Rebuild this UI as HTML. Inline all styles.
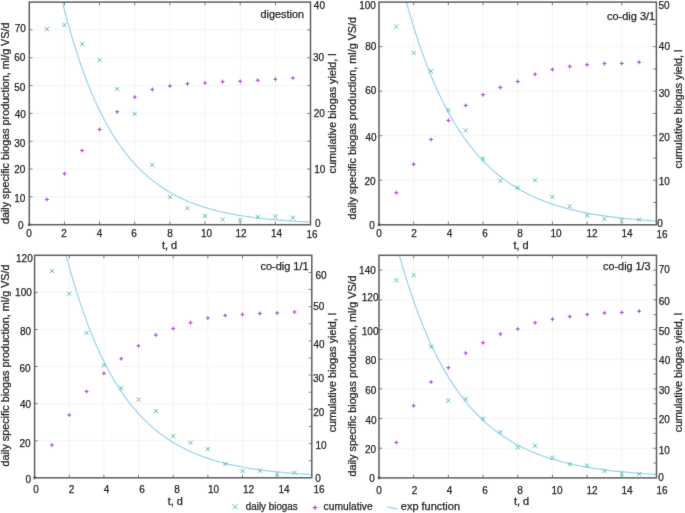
<!DOCTYPE html><html><head><meta charset="utf-8"><style>html,body{margin:0;padding:0;background:#fff;}svg{display:block;}text{font-family:"Liberation Sans", sans-serif;fill:#262626;stroke:#262626;stroke-width:0.25px;}</style></head><body><div id="w">
<svg width="685" height="513" viewBox="0 0 685 513">
<filter id="bl" x="0" y="0" width="685" height="513" filterUnits="userSpaceOnUse" color-interpolation-filters="sRGB"><feConvolveMatrix order="3" kernelMatrix="0.0064 0.0672 0.0064 0.0672 0.7056 0.0672 0.0064 0.0672 0.0064" edgeMode="duplicate" preserveAlpha="true"/></filter><g filter="url(#bl)"><rect width="685" height="513" fill="#fff"/>
<line x1="64.45" y1="2.1" x2="64.45" y2="224.7" stroke="#f4f4f4" stroke-width="1" /><line x1="99.6" y1="2.1" x2="99.6" y2="224.7" stroke="#f4f4f4" stroke-width="1" /><line x1="134.75" y1="2.1" x2="134.75" y2="224.7" stroke="#f4f4f4" stroke-width="1" /><line x1="169.9" y1="2.1" x2="169.9" y2="224.7" stroke="#f4f4f4" stroke-width="1" /><line x1="205.05" y1="2.1" x2="205.05" y2="224.7" stroke="#f4f4f4" stroke-width="1" /><line x1="240.2" y1="2.1" x2="240.2" y2="224.7" stroke="#f4f4f4" stroke-width="1" /><line x1="275.35" y1="2.1" x2="275.35" y2="224.7" stroke="#f4f4f4" stroke-width="1" /><line x1="29.3" y1="196.88" x2="310.5" y2="196.88" stroke="#f4f4f4" stroke-width="1" /><line x1="29.3" y1="169.05" x2="310.5" y2="169.05" stroke="#f4f4f4" stroke-width="1" /><line x1="29.3" y1="141.22" x2="310.5" y2="141.22" stroke="#f4f4f4" stroke-width="1" /><line x1="29.3" y1="113.4" x2="310.5" y2="113.4" stroke="#f4f4f4" stroke-width="1" /><line x1="29.3" y1="85.57" x2="310.5" y2="85.57" stroke="#f4f4f4" stroke-width="1" /><line x1="29.3" y1="57.75" x2="310.5" y2="57.75" stroke="#f4f4f4" stroke-width="1" /><line x1="29.3" y1="29.92" x2="310.5" y2="29.92" stroke="#f4f4f4" stroke-width="1" />
<clipPath id="c1"><rect x="29.3" y="2.1" width="281.2" height="222.6"/></clipPath>
<polyline clip-path="url(#c1)" points="59.6,-9.45 61.71,-0.75 63.82,7.62 65.93,15.67 68.03,23.43 70.14,30.91 72.25,38.1 74.36,45.03 76.47,51.7 78.58,58.12 80.68,64.3 82.79,70.26 84.9,75.99 87.01,81.51 89.12,86.83 91.23,91.95 93.33,96.88 95.44,101.62 97.55,106.19 99.66,110.59 101.77,114.83 103.88,118.9 105.98,122.83 108.09,126.61 110.2,130.26 112.31,133.76 114.42,137.14 116.53,140.39 118.64,143.52 120.74,146.53 122.85,149.43 124.96,152.23 127.07,154.92 129.18,157.51 131.29,160 133.39,162.41 135.5,164.72 137.61,166.94 139.72,169.09 141.83,171.15 143.94,173.14 146.04,175.05 148.15,176.9 150.26,178.67 152.37,180.38 154.48,182.03 156.59,183.61 158.69,185.14 160.8,186.6 162.91,188.02 165.02,189.38 167.13,190.69 169.24,191.95 171.35,193.17 173.45,194.34 175.56,195.47 177.67,196.55 179.78,197.6 181.89,198.6 184,199.57 186.1,200.51 188.21,201.4 190.32,202.27 192.43,203.1 194.54,203.9 196.65,204.68 198.75,205.42 200.86,206.13 202.97,206.82 205.08,207.49 207.19,208.13 209.3,208.74 211.41,209.33 213.51,209.9 215.62,210.45 217.73,210.98 219.84,211.49 221.95,211.98 224.06,212.45 226.16,212.91 228.27,213.35 230.38,213.77 232.49,214.17 234.6,214.56 236.71,214.94 238.81,215.3 240.92,215.65 243.03,215.99 245.14,216.31 247.25,216.62 249.36,216.92 251.46,217.21 253.57,217.49 255.68,217.76 257.79,218.01 259.9,218.26 262.01,218.5 264.12,218.73 266.22,218.95 268.33,219.17 270.44,219.37 272.55,219.57 274.66,219.76 276.77,219.94 278.87,220.12 280.98,220.29 283.09,220.45 285.2,220.61 287.31,220.76 289.42,220.91 291.52,221.05 293.63,221.19 295.74,221.32 297.85,221.44 299.96,221.56 302.07,221.68 304.17,221.79 306.28,221.9 308.39,222 310.5,222.1" fill="none" stroke="#9ad2f3" stroke-width="1.2"/>
<path d="M44.77 27.1L48.98 31.3M44.77 31.3L48.98 27.1M62.35 22.85L66.55 27.05M62.35 27.05L66.55 22.85M79.92 42.1L84.12 46.3M79.92 46.3L84.12 42.1M97.5 58.1L101.7 62.3M97.5 62.3L101.7 58.1M115.08 87L119.27 91.2M115.08 91.2L119.27 87M132.65 111.7L136.85 115.9M132.65 115.9L136.85 111.7M150.22 162.8L154.42 167M150.22 167L154.42 162.8M167.8 194.8L172 199M167.8 199L172 194.8M185.38 206L189.57 210.2M185.38 210.2L189.57 206M202.95 213.9L207.15 218.1M202.95 218.1L207.15 213.9M220.53 217.4L224.72 221.6M220.53 221.6L224.72 217.4M238.1 217.9L242.3 222.1M238.1 222.1L242.3 217.9M255.67 214.9L259.88 219.1M255.67 219.1L259.88 214.9M273.25 214.4L277.45 218.6M273.25 218.6L277.45 214.4M290.82 215.6L295.03 219.8M290.82 219.8L295.03 215.6" stroke="#52bf9c" stroke-width="0.95" fill="none"/>
<path d="M46.88 196.8L47.62 198.65L49.48 199.4L47.62 200.15L46.88 202L46.12 200.15L44.27 199.4L46.12 198.65ZM64.45 171.1L65.2 172.95L67.05 173.7L65.2 174.45L64.45 176.3L63.7 174.45L61.85 173.7L63.7 172.95ZM82.02 147.9L82.77 149.75L84.62 150.5L82.77 151.25L82.02 153.1L81.27 151.25L79.42 150.5L81.27 149.75ZM99.6 126.8L100.35 128.65L102.2 129.4L100.35 130.15L99.6 132L98.85 130.15L97 129.4L98.85 128.65ZM117.17 109.2L117.92 111.05L119.77 111.8L117.92 112.55L117.17 114.4L116.42 112.55L114.58 111.8L116.42 111.05ZM134.75 94.6L135.5 96.45L137.35 97.2L135.5 97.95L134.75 99.8L134 97.95L132.15 97.2L134 96.45ZM152.32 87L153.07 88.85L154.92 89.6L153.07 90.35L152.32 92.2L151.57 90.35L149.72 89.6L151.57 88.85ZM169.9 83.3L170.65 85.15L172.5 85.9L170.65 86.65L169.9 88.5L169.15 86.65L167.3 85.9L169.15 85.15ZM187.47 81.2L188.22 83.05L190.07 83.8L188.22 84.55L187.47 86.4L186.72 84.55L184.88 83.8L186.72 83.05ZM205.05 80.3L205.8 82.15L207.65 82.9L205.8 83.65L205.05 85.5L204.3 83.65L202.45 82.9L204.3 82.15ZM222.62 79.1L223.38 80.95L225.22 81.7L223.38 82.45L222.62 84.3L221.88 82.45L220.03 81.7L221.88 80.95ZM240.2 78.7L240.95 80.55L242.8 81.3L240.95 82.05L240.2 83.9L239.45 82.05L237.6 81.3L239.45 80.55ZM257.77 77.7L258.52 79.55L260.38 80.3L258.52 81.05L257.77 82.9L257.02 81.05L255.17 80.3L257.02 79.55ZM275.35 76.6L276.1 78.45L277.95 79.2L276.1 79.95L275.35 81.8L274.6 79.95L272.75 79.2L274.6 78.45ZM292.93 75.4L293.68 77.25L295.53 78L293.68 78.75L292.93 80.6L292.18 78.75L290.32 78L292.18 77.25Z" fill="#b252e8"/>
<path d="M64.45 224.7V221.5M64.45 2.1V5.3M99.6 224.7V221.5M99.6 2.1V5.3M134.75 224.7V221.5M134.75 2.1V5.3M169.9 224.7V221.5M169.9 2.1V5.3M205.05 224.7V221.5M205.05 2.1V5.3M240.2 224.7V221.5M240.2 2.1V5.3M275.35 224.7V221.5M275.35 2.1V5.3M29.3 196.88H32.5M29.3 169.05H32.5M29.3 141.22H32.5M29.3 113.4H32.5M29.3 85.57H32.5M29.3 57.75H32.5M29.3 29.92H32.5M310.5 196.88H307.3M310.5 169.05H307.3M310.5 141.22H307.3M310.5 113.4H307.3M310.5 85.57H307.3M310.5 57.75H307.3M310.5 29.92H307.3" stroke="#808080" stroke-width="1" fill="none"/>
<path d="M27.5 222.9L31.1 226.5M27.5 226.5L31.1 222.9" stroke="#52bf9c" stroke-width="0.9" fill="none" opacity="0.6"/>
<path d="M27.5 224.7H31.1M29.3 222.9V226.5" stroke="#b252e8" stroke-width="1" fill="none" opacity="0.5"/>
<rect x="29.3" y="2.1" width="281.2" height="222.6" fill="none" stroke="#5f5f5f" stroke-width="1.5"/>
<circle cx="29.3" cy="224.7" r="1.0" fill="#223f6c"/>
<text x="20.23" y="32.02" text-anchor="middle" font-size="10">70</text><text x="19.73" y="61.48" text-anchor="middle" font-size="10">60</text><text x="19.73" y="90.56" text-anchor="middle" font-size="10">50</text><text x="20.38" y="117.52" text-anchor="middle" font-size="10">40</text><text x="19.73" y="146.77" text-anchor="middle" font-size="10">30</text><text x="19.73" y="173.44" text-anchor="middle" font-size="10">20</text><text x="19.77" y="202.48" text-anchor="middle" font-size="10">10</text><text x="20.73" y="228.81" text-anchor="middle" font-size="10">0</text><text x="319.42" y="8.94" text-anchor="middle" font-size="10">40</text><text x="318.56" y="61.1" text-anchor="middle" font-size="10">30</text><text x="319.23" y="117.06" text-anchor="middle" font-size="10">20</text><text x="319.75" y="173.27" text-anchor="middle" font-size="10">10</text><text x="317.74" y="227.19" text-anchor="middle" font-size="10">0</text><text x="28.94" y="237.1" text-anchor="middle" font-size="10">0</text><text x="64.02" y="237.1" text-anchor="middle" font-size="10">2</text><text x="99.42" y="237.1" text-anchor="middle" font-size="10">4</text><text x="134.08" y="237.1" text-anchor="middle" font-size="10">6</text><text x="169.94" y="237.1" text-anchor="middle" font-size="10">8</text><text x="206.52" y="237.1" text-anchor="middle" font-size="10">10</text><text x="241.06" y="237.1" text-anchor="middle" font-size="10">12</text><text x="276.52" y="237.1" text-anchor="middle" font-size="10">14</text><text x="312.02" y="237.5" text-anchor="middle" font-size="10">16</text>
<text x="260.5" y="17.6" font-size="10" textLength="43.5" lengthAdjust="spacingAndGlyphs">digestion</text>
<text transform="translate(9.3,123.3) rotate(-90)" text-anchor="middle" font-size="10" textLength="201.4" lengthAdjust="spacingAndGlyphs">daily specific biogas production, ml/g VS/d</text>
<text transform="translate(335.6,113.35) rotate(-90)" text-anchor="middle" font-size="10" textLength="120.1" lengthAdjust="spacingAndGlyphs">cumulative biogas yield, l</text>
<text x="169.5" y="249.2" text-anchor="middle" font-size="10" textLength="15.2" lengthAdjust="spacingAndGlyphs">t, d</text>
<line x1="413.68" y1="2.1" x2="413.68" y2="224.8" stroke="#f4f4f4" stroke-width="1" /><line x1="448.35" y1="2.1" x2="448.35" y2="224.8" stroke="#f4f4f4" stroke-width="1" /><line x1="483.02" y1="2.1" x2="483.02" y2="224.8" stroke="#f4f4f4" stroke-width="1" /><line x1="517.7" y1="2.1" x2="517.7" y2="224.8" stroke="#f4f4f4" stroke-width="1" /><line x1="552.38" y1="2.1" x2="552.38" y2="224.8" stroke="#f4f4f4" stroke-width="1" /><line x1="587.05" y1="2.1" x2="587.05" y2="224.8" stroke="#f4f4f4" stroke-width="1" /><line x1="621.72" y1="2.1" x2="621.72" y2="224.8" stroke="#f4f4f4" stroke-width="1" /><line x1="379" y1="180.26" x2="656.4" y2="180.26" stroke="#f4f4f4" stroke-width="1" /><line x1="379" y1="135.72" x2="656.4" y2="135.72" stroke="#f4f4f4" stroke-width="1" /><line x1="379" y1="91.18" x2="656.4" y2="91.18" stroke="#f4f4f4" stroke-width="1" /><line x1="379" y1="46.64" x2="656.4" y2="46.64" stroke="#f4f4f4" stroke-width="1" />
<clipPath id="c2"><rect x="379" y="2.1" width="277.4" height="222.7"/></clipPath>
<polyline clip-path="url(#c2)" points="403.3,-9.48 405.43,-1.5 407.55,6.2 409.68,13.64 411.81,20.83 413.93,27.77 416.06,34.48 418.19,40.96 420.32,47.22 422.44,53.26 424.57,59.1 426.7,64.74 428.82,70.19 430.95,75.45 433.08,80.54 435.2,85.45 437.33,90.19 439.46,94.78 441.58,99.2 443.71,103.48 445.84,107.61 447.96,111.6 450.09,115.45 452.22,119.17 454.35,122.77 456.47,126.24 458.6,129.6 460.73,132.84 462.85,135.97 464.98,138.99 467.11,141.91 469.23,144.73 471.36,147.46 473.49,150.09 475.61,152.64 477.74,155.09 479.87,157.47 481.99,159.76 484.12,161.97 486.25,164.11 488.38,166.18 490.5,168.17 492.63,170.1 494.76,171.96 496.88,173.76 499.01,175.5 501.14,177.18 503.26,178.8 505.39,180.36 507.52,181.88 509.64,183.34 511.77,184.75 513.9,186.11 516.03,187.43 518.15,188.7 520.28,189.93 522.41,191.12 524.53,192.26 526.66,193.37 528.79,194.44 530.91,195.47 533.04,196.47 535.17,197.44 537.29,198.37 539.42,199.27 541.55,200.14 543.67,200.98 545.8,201.79 547.93,202.57 550.06,203.33 552.18,204.06 554.31,204.77 556.44,205.45 558.56,206.11 560.69,206.74 562.82,207.36 564.94,207.95 567.07,208.52 569.2,209.08 571.32,209.61 573.45,210.13 575.58,210.63 577.71,211.11 579.83,211.58 581.96,212.03 584.09,212.46 586.21,212.88 588.34,213.29 590.47,213.68 592.59,214.06 594.72,214.42 596.85,214.78 598.97,215.12 601.1,215.45 603.23,215.77 605.35,216.07 607.48,216.37 609.61,216.66 611.74,216.94 613.86,217.2 615.99,217.46 618.12,217.71 620.24,217.95 622.37,218.19 624.5,218.41 626.62,218.63 628.75,218.84 630.88,219.04 633,219.24 635.13,219.43 637.26,219.61 639.38,219.79 641.51,219.96 643.64,220.12 645.77,220.28 647.89,220.44 650.02,220.58 652.15,220.73 654.27,220.87 656.4,221" fill="none" stroke="#9ad2f3" stroke-width="1.2"/>
<path d="M394.24 24.4L398.44 28.6M394.24 28.6L398.44 24.4M411.57 50.7L415.78 54.9M411.57 54.9L415.78 50.7M428.91 69.1L433.11 73.3M428.91 73.3L433.11 69.1M446.25 108L450.45 112.2M446.25 112.2L450.45 108M463.59 128.3L467.79 132.5M463.59 132.5L467.79 128.3M480.92 156.5L485.12 160.7M480.92 160.7L485.12 156.5M498.26 178.5L502.46 182.7M498.26 182.7L502.46 178.5M515.6 185.7L519.8 189.9M515.6 189.9L519.8 185.7M532.94 178.2L537.14 182.4M532.94 182.4L537.14 178.2M550.27 194.8L554.48 199M550.27 199L554.48 194.8M567.61 204.2L571.81 208.4M567.61 208.4L571.81 204.2M584.95 213.5L589.15 217.7M584.95 217.7L589.15 213.5M602.29 217L606.49 221.2M602.29 221.2L606.49 217M619.62 218.2L623.82 222.4M619.62 222.4L623.82 218.2M636.96 217.5L641.16 221.7M636.96 221.7L641.16 217.5" stroke="#52bf9c" stroke-width="0.95" fill="none"/>
<path d="M396.34 190.2L397.09 192.05L398.94 192.8L397.09 193.55L396.34 195.4L395.59 193.55L393.74 192.8L395.59 192.05ZM413.68 161.7L414.43 163.55L416.28 164.3L414.43 165.05L413.68 166.9L412.93 165.05L411.07 164.3L412.93 163.55ZM431.01 136.9L431.76 138.75L433.61 139.5L431.76 140.25L431.01 142.1L430.26 140.25L428.41 139.5L430.26 138.75ZM448.35 117.8L449.1 119.65L450.95 120.4L449.1 121.15L448.35 123L447.6 121.15L445.75 120.4L447.6 119.65ZM465.69 102.8L466.44 104.65L468.29 105.4L466.44 106.15L465.69 108L464.94 106.15L463.09 105.4L464.94 104.65ZM483.02 92.2L483.77 94.05L485.62 94.8L483.77 95.55L483.02 97.4L482.27 95.55L480.42 94.8L482.27 94.05ZM500.36 84.85L501.11 86.7L502.96 87.45L501.11 88.2L500.36 90.05L499.61 88.2L497.76 87.45L499.61 86.7ZM517.7 78.8L518.45 80.65L520.3 81.4L518.45 82.15L517.7 84L516.95 82.15L515.1 81.4L516.95 80.65ZM535.04 71.7L535.79 73.55L537.64 74.3L535.79 75.05L535.04 76.9L534.29 75.05L532.44 74.3L534.29 73.55ZM552.38 66.8L553.12 68.65L554.98 69.4L553.12 70.15L552.38 72L551.62 70.15L549.77 69.4L551.62 68.65ZM569.71 63.8L570.46 65.65L572.31 66.4L570.46 67.15L569.71 69L568.96 67.15L567.11 66.4L568.96 65.65ZM587.05 62.2L587.8 64.05L589.65 64.8L587.8 65.55L587.05 67.4L586.3 65.55L584.45 64.8L586.3 64.05ZM604.39 61L605.14 62.85L606.99 63.6L605.14 64.35L604.39 66.2L603.64 64.35L601.79 63.6L603.64 62.85ZM621.72 60.8L622.47 62.65L624.32 63.4L622.47 64.15L621.72 66L620.97 64.15L619.12 63.4L620.97 62.65ZM639.06 59.6L639.81 61.45L641.66 62.2L639.81 62.95L639.06 64.8L638.31 62.95L636.46 62.2L638.31 61.45Z" fill="#b252e8"/>
<path d="M413.68 224.8V221.6M413.68 2.1V5.3M448.35 224.8V221.6M448.35 2.1V5.3M483.02 224.8V221.6M483.02 2.1V5.3M517.7 224.8V221.6M517.7 2.1V5.3M552.38 224.8V221.6M552.38 2.1V5.3M587.05 224.8V221.6M587.05 2.1V5.3M621.72 224.8V221.6M621.72 2.1V5.3M379 180.26H382.2M379 135.72H382.2M379 91.18H382.2M379 46.64H382.2M656.4 202.53H653.2M656.4 180.26H653.2M656.4 157.99H653.2M656.4 135.72H653.2M656.4 113.45H653.2M656.4 91.18H653.2M656.4 68.91H653.2M656.4 46.64H653.2M656.4 24.37H653.2" stroke="#808080" stroke-width="1" fill="none"/>
<path d="M377.2 223L380.8 226.6M377.2 226.6L380.8 223" stroke="#52bf9c" stroke-width="0.9" fill="none" opacity="0.6"/>
<path d="M377.2 224.8H380.8M379 223V226.6" stroke="#b252e8" stroke-width="1" fill="none" opacity="0.5"/>
<rect x="379" y="2.1" width="277.4" height="222.7" fill="none" stroke="#5f5f5f" stroke-width="1.5"/>
<circle cx="379" cy="224.8" r="1.0" fill="#223f6c"/>
<text x="367.54" y="8.52" text-anchor="middle" font-size="10">100</text><text x="370.73" y="49.52" text-anchor="middle" font-size="10">80</text><text x="370.71" y="94.02" text-anchor="middle" font-size="10">60</text><text x="371.13" y="140.6" text-anchor="middle" font-size="10">40</text><text x="370.08" y="184.56" text-anchor="middle" font-size="10">20</text><text x="371.92" y="228.6" text-anchor="middle" font-size="10">0</text><text x="664.08" y="8.6" text-anchor="middle" font-size="10">50</text><text x="664.42" y="50.1" text-anchor="middle" font-size="10">40</text><text x="664.27" y="96.94" text-anchor="middle" font-size="10">30</text><text x="664.27" y="141.02" text-anchor="middle" font-size="10">20</text><text x="664.27" y="184.6" text-anchor="middle" font-size="10">10</text><text x="659.92" y="227.42" text-anchor="middle" font-size="10">0</text><text x="379.08" y="237.27" text-anchor="middle" font-size="10">0</text><text x="414.08" y="237.27" text-anchor="middle" font-size="10">2</text><text x="449.44" y="237.27" text-anchor="middle" font-size="10">4</text><text x="485" y="237.27" text-anchor="middle" font-size="10">6</text><text x="520.08" y="237.27" text-anchor="middle" font-size="10">8</text><text x="556.04" y="237.27" text-anchor="middle" font-size="10">10</text><text x="591.98" y="237.27" text-anchor="middle" font-size="10">12</text><text x="627.04" y="237.27" text-anchor="middle" font-size="10">14</text><text x="662.08" y="237.67" text-anchor="middle" font-size="10">16</text>
<text x="606.9" y="19.7" font-size="10" textLength="48.3" lengthAdjust="spacingAndGlyphs">co-dig 3/1</text>
<text transform="translate(355.6,118.15) rotate(-90)" text-anchor="middle" font-size="10" textLength="202.5" lengthAdjust="spacingAndGlyphs">daily specific biogas production, ml/g VS/d</text>
<text transform="translate(682,109.05) rotate(-90)" text-anchor="middle" font-size="10" textLength="118.7" lengthAdjust="spacingAndGlyphs">cumulative biogas yield, l</text>
<text x="521" y="249.2" text-anchor="middle" font-size="10" textLength="15.2" lengthAdjust="spacingAndGlyphs">t, d</text>
<line x1="69.25" y1="255.3" x2="69.25" y2="477.8" stroke="#f4f4f4" stroke-width="1" /><line x1="103.9" y1="255.3" x2="103.9" y2="477.8" stroke="#f4f4f4" stroke-width="1" /><line x1="138.55" y1="255.3" x2="138.55" y2="477.8" stroke="#f4f4f4" stroke-width="1" /><line x1="173.2" y1="255.3" x2="173.2" y2="477.8" stroke="#f4f4f4" stroke-width="1" /><line x1="207.85" y1="255.3" x2="207.85" y2="477.8" stroke="#f4f4f4" stroke-width="1" /><line x1="242.5" y1="255.3" x2="242.5" y2="477.8" stroke="#f4f4f4" stroke-width="1" /><line x1="277.15" y1="255.3" x2="277.15" y2="477.8" stroke="#f4f4f4" stroke-width="1" /><line x1="34.6" y1="440.72" x2="311.8" y2="440.72" stroke="#f4f4f4" stroke-width="1" /><line x1="34.6" y1="403.63" x2="311.8" y2="403.63" stroke="#f4f4f4" stroke-width="1" /><line x1="34.6" y1="366.55" x2="311.8" y2="366.55" stroke="#f4f4f4" stroke-width="1" /><line x1="34.6" y1="329.47" x2="311.8" y2="329.47" stroke="#f4f4f4" stroke-width="1" /><line x1="34.6" y1="292.38" x2="311.8" y2="292.38" stroke="#f4f4f4" stroke-width="1" />
<clipPath id="c3"><rect x="34.6" y="255.3" width="277.2" height="222.5"/></clipPath>
<polyline clip-path="url(#c3)" points="63.2,243.68 65.29,251.95 67.38,259.91 69.47,267.6 71.56,275.02 73.65,282.17 75.73,289.08 77.82,295.73 79.91,302.16 82,308.36 84.09,314.33 86.18,320.1 88.27,325.67 90.36,331.03 92.45,336.21 94.54,341.21 96.63,346.03 98.71,350.68 100.8,355.16 102.89,359.49 104.98,363.66 107.07,367.69 109.16,371.57 111.25,375.32 113.34,378.94 115.43,382.43 117.52,385.79 119.61,389.04 121.69,392.17 123.78,395.19 125.87,398.11 127.96,400.92 130.05,403.63 132.14,406.25 134.23,408.77 136.32,411.21 138.41,413.56 140.5,415.82 142.58,418.01 144.67,420.12 146.76,422.16 148.85,424.12 150.94,426.01 153.03,427.84 155.12,429.6 157.21,431.3 159.3,432.94 161.39,434.53 163.48,436.05 165.56,437.53 167.65,438.95 169.74,440.32 171.83,441.64 173.92,442.92 176.01,444.15 178.1,445.33 180.19,446.48 182.28,447.58 184.37,448.65 186.46,449.68 188.54,450.67 190.63,451.63 192.72,452.55 194.81,453.44 196.9,454.3 198.99,455.13 201.08,455.93 203.17,456.7 205.26,457.45 207.35,458.17 209.44,458.86 211.52,459.53 213.61,460.17 215.7,460.79 217.79,461.39 219.88,461.97 221.97,462.53 224.06,463.07 226.15,463.59 228.24,464.09 230.33,464.57 232.42,465.04 234.5,465.49 236.59,465.93 238.68,466.34 240.77,466.75 242.86,467.14 244.95,467.51 247.04,467.88 249.13,468.23 251.22,468.57 253.31,468.89 255.39,469.21 257.48,469.51 259.57,469.8 261.66,470.08 263.75,470.36 265.84,470.62 267.93,470.87 270.02,471.12 272.11,471.35 274.2,471.58 276.29,471.8 278.37,472.01 280.46,472.22 282.55,472.41 284.64,472.6 286.73,472.79 288.82,472.96 290.91,473.13 293,473.3 295.09,473.46 297.18,473.61 299.27,473.76 301.35,473.9 303.44,474.04 305.53,474.17 307.62,474.3 309.71,474.42 311.8,474.54" fill="none" stroke="#9ad2f3" stroke-width="1.2"/>
<path d="M49.82 268.9L54.02 273.1M49.82 273.1L54.02 268.9M67.15 291.5L71.35 295.7M67.15 295.7L71.35 291.5M84.47 330.9L88.67 335.1M84.47 335.1L88.67 330.9M101.8 363.2L106 367.4M101.8 367.4L106 363.2M119.12 386L123.32 390.2M119.12 390.2L123.32 386M136.45 397.4L140.65 401.6M136.45 401.6L140.65 397.4M153.78 408.9L157.97 413.1M153.78 413.1L157.97 408.9M171.1 434.1L175.3 438.3M171.1 438.3L175.3 434.1M188.42 440.7L192.62 444.9M188.42 444.9L192.62 440.7M205.75 447L209.95 451.2M205.75 451.2L209.95 447M223.07 461.9L227.27 466.1M223.07 466.1L227.27 461.9M240.4 468.9L244.6 473.1M240.4 473.1L244.6 468.9M257.72 468.7L261.93 472.9M257.72 472.9L261.93 468.7M275.05 471.7L279.25 475.9M275.05 475.9L279.25 471.7M292.38 470.6L296.58 474.8M292.38 474.8L296.58 470.6" stroke="#52bf9c" stroke-width="0.95" fill="none"/>
<path d="M51.92 442.5L52.67 444.35L54.52 445.1L52.67 445.85L51.92 447.7L51.17 445.85L49.32 445.1L51.17 444.35ZM69.25 412.4L70 414.25L71.85 415L70 415.75L69.25 417.6L68.5 415.75L66.65 415L68.5 414.25ZM86.57 388.9L87.32 390.75L89.17 391.5L87.32 392.25L86.57 394.1L85.82 392.25L83.97 391.5L85.82 390.75ZM103.9 370.7L104.65 372.55L106.5 373.3L104.65 374.05L103.9 375.9L103.15 374.05L101.3 373.3L103.15 372.55ZM121.22 356.1L121.97 357.95L123.82 358.7L121.97 359.45L121.22 361.3L120.47 359.45L118.62 358.7L120.47 357.95ZM138.55 343.2L139.3 345.05L141.15 345.8L139.3 346.55L138.55 348.4L137.8 346.55L135.95 345.8L137.8 345.05ZM155.88 332.5L156.62 334.35L158.47 335.1L156.62 335.85L155.88 337.7L155.12 335.85L153.28 335.1L155.12 334.35ZM173.2 325.9L173.95 327.75L175.8 328.5L173.95 329.25L173.2 331.1L172.45 329.25L170.6 328.5L172.45 327.75ZM190.52 320.1L191.27 321.95L193.12 322.7L191.27 323.45L190.52 325.3L189.77 323.45L187.92 322.7L189.77 321.95ZM207.85 315.4L208.6 317.25L210.45 318L208.6 318.75L207.85 320.6L207.1 318.75L205.25 318L207.1 317.25ZM225.17 312.8L225.92 314.65L227.77 315.4L225.92 316.15L225.17 318L224.42 316.15L222.57 315.4L224.42 314.65ZM242.5 311.9L243.25 313.75L245.1 314.5L243.25 315.25L242.5 317.1L241.75 315.25L239.9 314.5L241.75 313.75ZM259.82 311L260.57 312.85L262.43 313.6L260.57 314.35L259.82 316.2L259.07 314.35L257.22 313.6L259.07 312.85ZM277.15 310.3L277.9 312.15L279.75 312.9L277.9 313.65L277.15 315.5L276.4 313.65L274.55 312.9L276.4 312.15ZM294.48 309.3L295.23 311.15L297.08 311.9L295.23 312.65L294.48 314.5L293.73 312.65L291.88 311.9L293.73 311.15Z" fill="#b252e8"/>
<path d="M69.25 477.8V474.6M69.25 255.3V258.5M103.9 477.8V474.6M103.9 255.3V258.5M138.55 477.8V474.6M138.55 255.3V258.5M173.2 477.8V474.6M173.2 255.3V258.5M207.85 477.8V474.6M207.85 255.3V258.5M242.5 477.8V474.6M242.5 255.3V258.5M277.15 477.8V474.6M277.15 255.3V258.5M34.6 440.72H37.8M34.6 403.63H37.8M34.6 366.55H37.8M34.6 329.47H37.8M34.6 292.38H37.8M311.8 460.68H308.6M311.8 443.57H308.6M311.8 426.45H308.6M311.8 409.34H308.6M311.8 392.22H308.6M311.8 375.11H308.6M311.8 357.99H308.6M311.8 340.88H308.6M311.8 323.76H308.6M311.8 306.65H308.6M311.8 289.53H308.6M311.8 272.42H308.6" stroke="#808080" stroke-width="1" fill="none"/>
<path d="M32.8 476L36.4 479.6M32.8 479.6L36.4 476" stroke="#52bf9c" stroke-width="0.9" fill="none" opacity="0.6"/>
<path d="M32.8 477.8H36.4M34.6 476V479.6" stroke="#b252e8" stroke-width="1" fill="none" opacity="0.5"/>
<rect x="34.6" y="255.3" width="277.2" height="222.5" fill="none" stroke="#5f5f5f" stroke-width="1.5"/>
<circle cx="34.6" cy="477.8" r="1.0" fill="#223f6c"/>
<text x="24.42" y="261.52" text-anchor="middle" font-size="10">120</text><text x="23.44" y="296.1" text-anchor="middle" font-size="10">100</text><text x="25.5" y="334.94" text-anchor="middle" font-size="10">80</text><text x="25.08" y="372.35" text-anchor="middle" font-size="10">60</text><text x="25.48" y="407.98" text-anchor="middle" font-size="10">40</text><text x="25" y="446.94" text-anchor="middle" font-size="10">20</text><text x="28.23" y="482.52" text-anchor="middle" font-size="10">0</text><text x="320.98" y="279.02" text-anchor="middle" font-size="10">60</text><text x="318.83" y="309.54" text-anchor="middle" font-size="10">50</text><text x="319" y="347.72" text-anchor="middle" font-size="10">40</text><text x="318.6" y="382.02" text-anchor="middle" font-size="10">30</text><text x="318.83" y="415.72" text-anchor="middle" font-size="10">20</text><text x="321" y="448.6" text-anchor="middle" font-size="10">10</text><text x="318.04" y="481.98" text-anchor="middle" font-size="10">0</text><text x="35.96" y="493.1" text-anchor="middle" font-size="10">0</text><text x="71.5" y="493.1" text-anchor="middle" font-size="10">2</text><text x="106.5" y="493.1" text-anchor="middle" font-size="10">4</text><text x="142.02" y="493.1" text-anchor="middle" font-size="10">6</text><text x="177.04" y="493.1" text-anchor="middle" font-size="10">8</text><text x="213.56" y="493.1" text-anchor="middle" font-size="10">10</text><text x="248.56" y="493.1" text-anchor="middle" font-size="10">12</text><text x="284.06" y="493.1" text-anchor="middle" font-size="10">14</text><text x="318.98" y="493.1" text-anchor="middle" font-size="10">16</text>
<text x="260.5" y="270" font-size="10" textLength="48" lengthAdjust="spacingAndGlyphs">co-dig 1/1</text>
<text transform="translate(9.2,365.45) rotate(-90)" text-anchor="middle" font-size="10" textLength="201.9" lengthAdjust="spacingAndGlyphs">daily specific biogas production, ml/g VS/d</text>
<text transform="translate(336,372.6) rotate(-90)" text-anchor="middle" font-size="10" textLength="119.4" lengthAdjust="spacingAndGlyphs">cumulative biogas yield, l</text>
<text x="175.35" y="504.5" text-anchor="middle" font-size="10" textLength="15.2" lengthAdjust="spacingAndGlyphs">t, d</text>
<line x1="413.69" y1="255.3" x2="413.69" y2="477.9" stroke="#f4f4f4" stroke-width="1" /><line x1="448.38" y1="255.3" x2="448.38" y2="477.9" stroke="#f4f4f4" stroke-width="1" /><line x1="483.06" y1="255.3" x2="483.06" y2="477.9" stroke="#f4f4f4" stroke-width="1" /><line x1="517.75" y1="255.3" x2="517.75" y2="477.9" stroke="#f4f4f4" stroke-width="1" /><line x1="552.44" y1="255.3" x2="552.44" y2="477.9" stroke="#f4f4f4" stroke-width="1" /><line x1="587.12" y1="255.3" x2="587.12" y2="477.9" stroke="#f4f4f4" stroke-width="1" /><line x1="621.81" y1="255.3" x2="621.81" y2="477.9" stroke="#f4f4f4" stroke-width="1" /><line x1="379" y1="448.22" x2="656.5" y2="448.22" stroke="#f4f4f4" stroke-width="1" /><line x1="379" y1="418.54" x2="656.5" y2="418.54" stroke="#f4f4f4" stroke-width="1" /><line x1="379" y1="388.86" x2="656.5" y2="388.86" stroke="#f4f4f4" stroke-width="1" /><line x1="379" y1="359.18" x2="656.5" y2="359.18" stroke="#f4f4f4" stroke-width="1" /><line x1="379" y1="329.5" x2="656.5" y2="329.5" stroke="#f4f4f4" stroke-width="1" /><line x1="379" y1="299.82" x2="656.5" y2="299.82" stroke="#f4f4f4" stroke-width="1" /><line x1="379" y1="270.14" x2="656.5" y2="270.14" stroke="#f4f4f4" stroke-width="1" />
<clipPath id="c4"><rect x="379" y="255.3" width="277.5" height="222.6"/></clipPath>
<polyline clip-path="url(#c4)" points="396.1,243.09 398.29,251.25 400.48,259.13 402.66,266.74 404.85,274.08 407.04,281.16 409.23,288 411.42,294.6 413.61,300.97 415.79,307.12 417.98,313.06 420.17,318.79 422.36,324.32 424.55,329.66 426.74,334.81 428.92,339.79 431.11,344.59 433.3,349.22 435.49,353.7 437.68,358.01 439.86,362.18 442.05,366.2 444.24,370.09 446.43,373.83 448.62,377.45 450.81,380.94 452.99,384.31 455.18,387.57 457.37,390.71 459.56,393.74 461.75,396.66 463.94,399.49 466.12,402.21 468.31,404.85 470.5,407.38 472.69,409.84 474.88,412.2 477.06,414.49 479.25,416.69 481.44,418.82 483.63,420.87 485.82,422.85 488.01,424.77 490.19,426.61 492.38,428.4 494.57,430.12 496.76,431.78 498.95,433.38 501.14,434.93 503.32,436.42 505.51,437.87 507.7,439.26 509.89,440.6 512.08,441.9 514.26,443.15 516.45,444.36 518.64,445.52 520.83,446.65 523.02,447.73 525.21,448.78 527.39,449.8 529.58,450.77 531.77,451.72 533.96,452.63 536.15,453.5 538.34,454.35 540.52,455.17 542.71,455.96 544.9,456.72 547.09,457.46 549.28,458.17 551.46,458.86 553.65,459.52 555.84,460.16 558.03,460.77 560.22,461.37 562.41,461.94 564.59,462.5 566.78,463.03 568.97,463.55 571.16,464.05 573.35,464.53 575.54,465 577.72,465.44 579.91,465.88 582.1,466.3 584.29,466.7 586.48,467.09 588.66,467.46 590.85,467.83 593.04,468.18 595.23,468.51 597.42,468.84 599.61,469.16 601.79,469.46 603.98,469.75 606.17,470.04 608.36,470.31 610.55,470.57 612.74,470.83 614.92,471.07 617.11,471.31 619.3,471.54 621.49,471.76 623.68,471.98 625.86,472.18 628.05,472.38 630.24,472.57 632.43,472.76 634.62,472.94 636.81,473.11 638.99,473.27 641.18,473.44 643.37,473.59 645.56,473.74 647.75,473.89 649.94,474.02 652.12,474.16 654.31,474.29 656.5,474.42" fill="none" stroke="#9ad2f3" stroke-width="1.2"/>
<path d="M394.24 278.2L398.44 282.4M394.24 282.4L398.44 278.2M411.59 273L415.79 277.2M411.59 277.2L415.79 273M428.93 344.6L433.13 348.8M428.93 348.8L433.13 344.6M446.27 398.5L450.48 402.7M446.27 402.7L450.48 398.5M463.62 397L467.82 401.2M463.62 401.2L467.82 397M480.96 416.5L485.16 420.7M480.96 420.7L485.16 416.5M498.31 429.9L502.51 434.1M498.31 434.1L502.51 429.9M515.65 445.3L519.85 449.5M515.65 449.5L519.85 445.3M532.99 443.6L537.19 447.8M532.99 447.8L537.19 443.6M550.34 455.6L554.54 459.8M550.34 459.8L554.54 455.6M567.68 462.1L571.88 466.3M567.68 466.3L571.88 462.1M585.02 463.5L589.23 467.7M585.02 467.7L589.23 463.5M602.37 468.9L606.57 473.1M602.37 473.1L606.57 468.9M619.71 471.5L623.91 475.7M619.71 475.7L623.91 471.5M637.06 471.9L641.26 476.1M637.06 476.1L641.26 471.9" stroke="#52bf9c" stroke-width="0.95" fill="none"/>
<path d="M396.34 439.9L397.09 441.75L398.94 442.5L397.09 443.25L396.34 445.1L395.59 443.25L393.74 442.5L395.59 441.75ZM413.69 403.1L414.44 404.95L416.29 405.7L414.44 406.45L413.69 408.3L412.94 406.45L411.09 405.7L412.94 404.95ZM431.03 379.3L431.78 381.15L433.63 381.9L431.78 382.65L431.03 384.5L430.28 382.65L428.43 381.9L430.28 381.15ZM448.38 365.1L449.12 366.95L450.98 367.7L449.12 368.45L448.38 370.3L447.62 368.45L445.77 367.7L447.62 366.95ZM465.72 350.45L466.47 352.3L468.32 353.05L466.47 353.8L465.72 355.65L464.97 353.8L463.12 353.05L464.97 352.3ZM483.06 340.1L483.81 341.95L485.66 342.7L483.81 343.45L483.06 345.3L482.31 343.45L480.46 342.7L482.31 341.95ZM500.41 331.45L501.16 333.3L503.01 334.05L501.16 334.8L500.41 336.65L499.66 334.8L497.81 334.05L499.66 333.3ZM517.75 326.4L518.5 328.25L520.35 329L518.5 329.75L517.75 331.6L517 329.75L515.15 329L517 328.25ZM535.09 320.1L535.84 321.95L537.69 322.7L535.84 323.45L535.09 325.3L534.34 323.45L532.49 322.7L534.34 321.95ZM552.44 316.6L553.19 318.45L555.04 319.2L553.19 319.95L552.44 321.8L551.69 319.95L549.84 319.2L551.69 318.45ZM569.78 314L570.53 315.85L572.38 316.6L570.53 317.35L569.78 319.2L569.03 317.35L567.18 316.6L569.03 315.85ZM587.12 311.9L587.88 313.75L589.73 314.5L587.88 315.25L587.12 317.1L586.38 315.25L584.52 314.5L586.38 313.75ZM604.47 310.3L605.22 312.15L607.07 312.9L605.22 313.65L604.47 315.5L603.72 313.65L601.87 312.9L603.72 312.15ZM621.81 309.8L622.56 311.65L624.41 312.4L622.56 313.15L621.81 315L621.06 313.15L619.21 312.4L621.06 311.65ZM639.16 308.6L639.91 310.45L641.76 311.2L639.91 311.95L639.16 313.8L638.41 311.95L636.56 311.2L638.41 310.45Z" fill="#b252e8"/>
<path d="M413.69 477.9V474.7M413.69 255.3V258.5M448.38 477.9V474.7M448.38 255.3V258.5M483.06 477.9V474.7M483.06 255.3V258.5M517.75 477.9V474.7M517.75 255.3V258.5M552.44 477.9V474.7M552.44 255.3V258.5M587.12 477.9V474.7M587.12 255.3V258.5M621.81 477.9V474.7M621.81 255.3V258.5M379 448.22H382.2M379 418.54H382.2M379 388.86H382.2M379 359.18H382.2M379 329.5H382.2M379 299.82H382.2M379 270.14H382.2M656.5 463.06H653.3M656.5 448.22H653.3M656.5 433.38H653.3M656.5 418.54H653.3M656.5 403.7H653.3M656.5 388.86H653.3M656.5 374.02H653.3M656.5 359.18H653.3M656.5 344.34H653.3M656.5 329.5H653.3M656.5 314.66H653.3M656.5 299.82H653.3M656.5 284.98H653.3M656.5 270.14H653.3" stroke="#808080" stroke-width="1" fill="none"/>
<path d="M377.2 476.1L380.8 479.7M377.2 479.7L380.8 476.1" stroke="#52bf9c" stroke-width="0.9" fill="none" opacity="0.6"/>
<path d="M377.2 477.9H380.8M379 476.1V479.7" stroke="#b252e8" stroke-width="1" fill="none" opacity="0.5"/>
<rect x="379" y="255.3" width="277.5" height="222.6" fill="none" stroke="#5f5f5f" stroke-width="1.5"/>
<circle cx="379" cy="477.9" r="1.0" fill="#223f6c"/>
<text x="367.46" y="273.98" text-anchor="middle" font-size="10">140</text><text x="370.15" y="301.21" text-anchor="middle" font-size="10">120</text><text x="370.15" y="334.5" text-anchor="middle" font-size="10">100</text><text x="370.73" y="364.48" text-anchor="middle" font-size="10">80</text><text x="370.73" y="394.02" text-anchor="middle" font-size="10">60</text><text x="370.94" y="423.52" text-anchor="middle" font-size="10">40</text><text x="370.5" y="452.6" text-anchor="middle" font-size="10">20</text><text x="371.96" y="481.56" text-anchor="middle" font-size="10">0</text><text x="664.27" y="273.44" text-anchor="middle" font-size="10">70</text><text x="664.27" y="304.6" text-anchor="middle" font-size="10">60</text><text x="664.27" y="334.98" text-anchor="middle" font-size="10">50</text><text x="664.67" y="364.44" text-anchor="middle" font-size="10">40</text><text x="664.27" y="393.6" text-anchor="middle" font-size="10">30</text><text x="664.27" y="422.6" text-anchor="middle" font-size="10">20</text><text x="664.27" y="454.1" text-anchor="middle" font-size="10">10</text><text x="661" y="481.48" text-anchor="middle" font-size="10">0</text><text x="379.04" y="493.69" text-anchor="middle" font-size="10">0</text><text x="414.5" y="493.69" text-anchor="middle" font-size="10">2</text><text x="449.5" y="493.69" text-anchor="middle" font-size="10">4</text><text x="484.92" y="493.69" text-anchor="middle" font-size="10">6</text><text x="519.92" y="493.69" text-anchor="middle" font-size="10">8</text><text x="556.98" y="493.69" text-anchor="middle" font-size="10">10</text><text x="592.02" y="493.69" text-anchor="middle" font-size="10">12</text><text x="627.06" y="493.69" text-anchor="middle" font-size="10">14</text><text x="662.06" y="493.69" text-anchor="middle" font-size="10">16</text>
<text x="603.1" y="269.8" font-size="10" textLength="47.5" lengthAdjust="spacingAndGlyphs">co-dig 1/3</text>
<text transform="translate(356.2,376) rotate(-90)" text-anchor="middle" font-size="10" textLength="201.1" lengthAdjust="spacingAndGlyphs">daily specific biogas production, ml/g VS/d</text>
<text transform="translate(682.2,372.6) rotate(-90)" text-anchor="middle" font-size="10" textLength="119.4" lengthAdjust="spacingAndGlyphs">cumulative biogas yield, l</text>
<text x="521.5" y="504.5" text-anchor="middle" font-size="10" textLength="15.2" lengthAdjust="spacingAndGlyphs">t, d</text>
<path d="M232.4 504.1L237.6 509.3M232.4 509.3L237.6 504.1" stroke="#52bf9c" stroke-width="0.95" fill="none"/>
<text x="245.8" y="510.3" font-size="10" textLength="51.9" lengthAdjust="spacingAndGlyphs">daily biogas</text>
<path d="M315 504.5L315.8 506.8L318.1 507.6L315.8 508.4L315 510.7L314.2 508.4L311.9 507.6L314.2 506.8Z" fill="#b252e8"/>
<text x="323.6" y="510.2" font-size="10" textLength="49" lengthAdjust="spacingAndGlyphs">cumulative</text>
<path d="M387.3 506.8L397.5 509.2" stroke="#9ad2f3" stroke-width="1.2" fill="none"/>
<text x="400.8" y="509.6" font-size="10" textLength="59.2" lengthAdjust="spacingAndGlyphs">exp function</text>
</g></svg></div></body></html>
